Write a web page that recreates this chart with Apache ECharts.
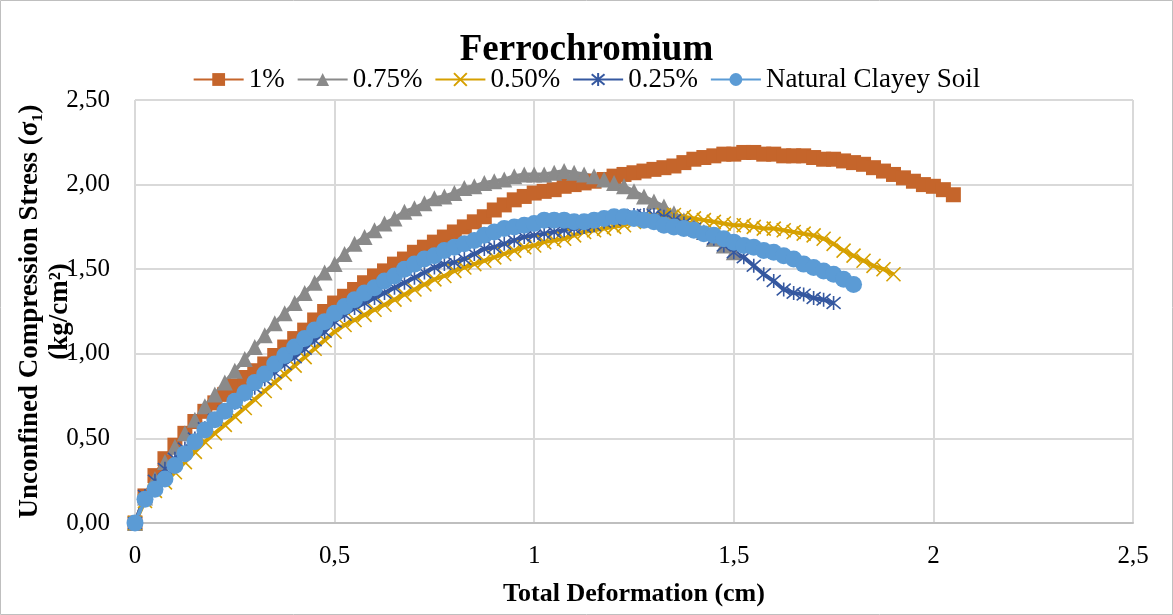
<!DOCTYPE html>
<html>
<head>
<meta charset="utf-8">
<script src="https://cdn.jsdelivr.net/npm/echarts@6/dist/echarts.min.js"></script>
<style>
  html, body { margin: 0; padding: 0; background: #fff; }
  #main { width: 1173px; height: 615px; }
</style>
</head>
<body>
<div id="main"></div>
<script>
// total deformation (cm), shared by all series
const deformation = [
  0, 0.025, 0.05, 0.075, 0.1, 0.125, 0.15, 0.175, 0.2, 0.225,
  0.25, 0.275, 0.3, 0.325, 0.35, 0.375, 0.4, 0.425, 0.45, 0.475,
  0.5, 0.525, 0.55, 0.575, 0.6, 0.625, 0.65, 0.675, 0.7, 0.725,
  0.75, 0.775, 0.8, 0.825, 0.85, 0.875, 0.9, 0.925, 0.95, 0.975,
  1.0, 1.025, 1.05, 1.075, 1.1, 1.125, 1.15, 1.175, 1.2, 1.225,
  1.25, 1.275, 1.3, 1.325, 1.35, 1.375, 1.4, 1.425, 1.45, 1.475,
  1.5, 1.525, 1.55, 1.575, 1.6, 1.625, 1.65, 1.675, 1.7, 1.725,
  1.75, 1.775, 1.8, 1.825, 1.85, 1.875, 1.9, 1.925, 1.95, 1.975,
  2.0, 2.025, 2.05
]

// stress (kg/cm2)
const stress1 = [
  0, 0.16, 0.28, 0.38, 0.46, 0.53, 0.60, 0.66, 0.71, 0.76,
  0.81, 0.86, 0.90, 0.94, 0.99, 1.04, 1.09, 1.14, 1.20, 1.25,
  1.30, 1.34, 1.38, 1.42, 1.46, 1.49, 1.53, 1.56, 1.60, 1.63,
  1.66, 1.69, 1.72, 1.75, 1.78, 1.81, 1.85, 1.88, 1.91, 1.93,
  1.95, 1.96, 1.97, 1.99, 2.00, 2.01, 2.02, 2.03, 2.05, 2.06,
  2.07, 2.08, 2.09, 2.10, 2.11, 2.13, 2.15, 2.16, 2.17, 2.18,
  2.18, 2.19, 2.19, 2.18, 2.18, 2.17, 2.17, 2.17, 2.16, 2.15,
  2.15, 2.14, 2.13, 2.12, 2.10, 2.08, 2.06, 2.04, 2.02, 2.00,
  1.99, 1.97, 1.94
]
const stress075 = [
  0, 0.15, 0.26, 0.36, 0.45, 0.53, 0.61, 0.69, 0.76, 0.83,
  0.90, 0.97, 1.04, 1.11, 1.18, 1.24, 1.30, 1.36, 1.42, 1.48,
  1.53, 1.59, 1.65, 1.69, 1.73, 1.77, 1.80, 1.84, 1.86, 1.89,
  1.92, 1.93, 1.95, 1.98, 1.99, 2.01, 2.02, 2.03, 2.05, 2.06,
  2.06, 2.06, 2.07, 2.08, 2.07, 2.06, 2.05, 2.03, 2.01, 1.99,
  1.96, 1.93, 1.90, 1.87, 1.83, 1.79, 1.76, 1.72, 1.68, 1.64,
  1.60
]
const stress050 = [
  0, 0.13, 0.19, 0.24, 0.30, 0.36, 0.42, 0.48, 0.53, 0.58,
  0.63, 0.68, 0.73, 0.78, 0.83, 0.88, 0.93, 0.98, 1.03, 1.08,
  1.13, 1.17, 1.20, 1.23, 1.26, 1.29, 1.32, 1.35, 1.38, 1.41,
  1.44, 1.46, 1.49, 1.51, 1.53, 1.55, 1.57, 1.59, 1.61, 1.63,
  1.64, 1.66, 1.67, 1.68, 1.70, 1.72, 1.73, 1.74, 1.75, 1.76,
  1.78, 1.80, 1.81, 1.82, 1.82, 1.81, 1.80, 1.79, 1.78, 1.77,
  1.76, 1.76, 1.75, 1.74, 1.74, 1.73, 1.72, 1.71, 1.70, 1.68,
  1.65, 1.61, 1.58, 1.55, 1.52, 1.50, 1.47
]
const stress025 = [
  0, 0.16, 0.25, 0.32, 0.38, 0.44, 0.50, 0.56, 0.61, 0.66,
  0.71, 0.76, 0.80, 0.85, 0.89, 0.94, 0.98, 1.03, 1.08, 1.13,
  1.19, 1.23, 1.27, 1.30, 1.33, 1.36, 1.39, 1.42, 1.45, 1.48,
  1.51, 1.53, 1.54, 1.56, 1.59, 1.62, 1.63, 1.65, 1.67, 1.69,
  1.70, 1.71, 1.72, 1.73, 1.74, 1.75, 1.76, 1.78, 1.79, 1.81,
  1.82, 1.82, 1.82, 1.81, 1.79, 1.77, 1.74, 1.71, 1.68, 1.64,
  1.60, 1.57, 1.52, 1.47, 1.43, 1.38, 1.36, 1.35, 1.33, 1.32,
  1.30
]
const stressNatural = [
  0, 0.14, 0.20, 0.26, 0.34, 0.41, 0.48, 0.55, 0.61, 0.66,
  0.72, 0.77, 0.83, 0.88, 0.94, 0.99, 1.04, 1.09, 1.14, 1.19,
  1.24, 1.28, 1.32, 1.36, 1.39, 1.43, 1.46, 1.50, 1.53, 1.56,
  1.58, 1.61, 1.63, 1.65, 1.67, 1.70, 1.72, 1.74, 1.75, 1.76,
  1.77, 1.79, 1.79, 1.79, 1.78, 1.78, 1.79, 1.80, 1.81, 1.81,
  1.80, 1.79, 1.78, 1.76, 1.75, 1.74, 1.73, 1.71, 1.70, 1.68,
  1.66, 1.64, 1.63, 1.61, 1.60, 1.58, 1.56, 1.53, 1.51, 1.49,
  1.47, 1.44, 1.41
]

const seriesNames = ['1%', '0.75%', '0.50%', '0.25%', 'Natural Clayey Soil']
const seriesColors = ['#C5652B', '#8A8A8A', '#D6A000', '#3558A0', '#5B9BD5']

const pairs = (ys) => ys.map((y, i) => [deformation[i], y])
const comma = (v, d) => v.toFixed(d).replace('.', ',')

const xMark = 'path://M0,0L10,10M10,0L0,10'
const starMark = 'path://M0,0L10,10M10,0L0,10M5,-1L5,11'

function makeSeries(idx, ys, symbol, size, outline) {
  return {
    name: seriesNames[idx],
    type: 'line',
    data: pairs(ys),
    symbol: symbol,
    symbolSize: size,
    showAllSymbol: true,
    lineStyle: { color: seriesColors[idx], width: 4 },
    itemStyle: outline
      ? { color: 'rgba(0,0,0,0)', borderColor: seriesColors[idx], borderWidth: 1.6 }
      : { color: seriesColors[idx], borderWidth: 0 },
    emphasis: { disabled: true },
    animation: false
  }
}

const serif = 'Liberation Serif'

const chart = echarts.init(document.getElementById('main'))
chart.setOption({
  animation: false,
  title: {
    text: 'Ferrochromium',
    left: 'center',
    top: 27,
    textStyle: { fontFamily: serif, fontWeight: 'bold', fontSize: 37, color: '#000' }
  },
  legend: {
    top: 61,
    left: 'center',
    itemWidth: 50,
    itemHeight: 16,
    itemGap: 12,
    textStyle: { fontFamily: serif, fontSize: 27, color: '#000' },
    data: seriesNames
  },
  graphic: [{
    type: 'rect',
    shape: { x: 0.5, y: 0.5, width: 1172, height: 614 },
    style: { fill: 'none', stroke: '#BFBFBF', lineWidth: 1 }
  }],
  grid: { left: 135, right: 40, top: 100, bottom: 92, containLabel: false, outerBoundsMode: 'none' },
  xAxis: {
    type: 'value',
    min: 0,
    max: 2.5,
    interval: 0.5,
    name: 'Total Deformation (cm)',
    nameLocation: 'middle',
    nameGap: 58,
    nameMoveOverlap: false,
    nameTextStyle: { fontFamily: serif, fontWeight: 'bold', fontSize: 26, color: '#000' },
    axisLine: { lineStyle: { color: '#BFBFBF', width: 2 } },
    axisTick: { show: false },
    axisLabel: {
      margin: 21,
      fontFamily: serif,
      fontSize: 25,
      color: '#000',
      formatter: (v) => comma(v, v % 1 === 0 ? 0 : 1)
    },
    splitLine: { lineStyle: { color: '#D9D9D9', width: 2 } }
  },
  yAxis: {
    type: 'value',
    min: 0,
    max: 2.5,
    interval: 0.5,
    name: 'Unconfined Compression Stress (σ₁)\n(kg/cm²)',
    nameLocation: 'middle',
    nameGap: 60,
    nameMoveOverlap: false,
    nameTextStyle: {
      fontFamily: serif,
      fontWeight: 'bold',
      fontSize: 27,
      lineHeight: 30,
      color: '#000'
    },
    axisLine: { show: false },
    axisTick: { show: false },
    axisLabel: {
      margin: 25,
      fontFamily: serif,
      fontSize: 25,
      color: '#000',
      formatter: (v) => comma(v, 2)
    },
    splitLine: { lineStyle: { color: '#D9D9D9', width: 2 } }
  },
  series: [
    makeSeries(0, stress1, 'rect', 15, false),
    makeSeries(1, stress075, 'triangle', 16, false),
    makeSeries(2, stress050, xMark, 14, true),
    makeSeries(3, stress025, starMark, 14, true),
    makeSeries(4, stressNatural, 'circle', 17, false)
  ]
})
</script>
</body>
</html>
